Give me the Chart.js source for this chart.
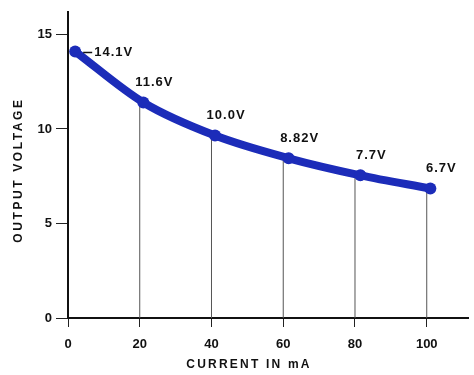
<!DOCTYPE html>
<html>
<head>
<meta charset="utf-8">
<script src="https://cdn.jsdelivr.net/npm/chart.js@4/dist/chart.umd.min.js"></script>
<style>
  html, body { margin: 0; padding: 0; background: #fff; }
  #wrap { width: 474px; height: 375px; }
</style>
</head>
<body>
<div id="wrap"><canvas id="chart" width="474" height="375"></canvas></div>
<script>
// Data
const current = [2, 21, 41, 61.5, 81.5, 101];           // mA
const voltage = [14.1, 11.4, 9.65, 8.45, 7.55, 6.85];   // plotted position
const pointLabels = ['14.1V', '11.6V', '10.0V', '8.82V', '7.7V', '6.7V'];
const dropX = [20, 40, 60, 80, 100];
const dropTop = [11.45, 9.7, 8.45, 7.55, 6.85];
const xTicks = [0, 20, 40, 60, 80, 100];
const yTicks = [0, 5, 10, 15];

const lineColor = 'rgb(28, 44, 185)';
const fontFamily = '"Liberation Sans", "DejaVu Sans", sans-serif';

// vertical drop lines, split with NaN gaps
const dropData = [];
dropX.forEach((x, i) => {
    dropData.push({ x: x, y: 0 }, { x: x, y: dropTop[i] }, { x: x, y: NaN });
});

const annotate = {
    id: 'annotate',
    afterDatasetsDraw(chart) {
        const ctx = chart.ctx;
        const meta = chart.getDatasetMeta(1);
        ctx.save();
        ctx.fillStyle = '#111';
        ctx.font = 'bold 13px ' + fontFamily;
        ctx.letterSpacing = '1px';
        ctx.textBaseline = 'middle';
        meta.data.forEach((pt, i) => {
            if (i === 0) {
                // leader dash + label to the right
                ctx.strokeStyle = '#111';
                ctx.lineWidth = 1.5;
                ctx.beginPath();
                ctx.moveTo(pt.x + 8, pt.y + 1);
                ctx.lineTo(pt.x + 17, pt.y + 1);
                ctx.stroke();
                ctx.textAlign = 'left';
                ctx.fillText(pointLabels[i], pt.x + 19, pt.y + 1);
            } else {
                ctx.textAlign = 'center';
                ctx.fillText(pointLabels[i], pt.x + 11, pt.y - 20);
            }
        });

        // axis titles
        ctx.textAlign = 'center';
        ctx.font = 'bold 12px ' + fontFamily;
        ctx.letterSpacing = '2.2px';
        ctx.fillText('CURRENT IN mA', 249, 365);
        ctx.translate(19, 170);
        ctx.rotate(-Math.PI / 2);
        ctx.letterSpacing = '2.6px';
        ctx.fillText('OUTPUT VOLTAGE', 0, 0);
        ctx.restore();
    }
};

new Chart(document.getElementById('chart'), {
    type: 'line',
    data: {
        datasets: [{
            data: dropData,
            borderColor: '#555',
            borderWidth: 1,
            pointRadius: 0,
            spanGaps: false,
            order: 2
        }, {
            data: current.map((x, i) => ({ x: x, y: voltage[i] })),
            borderColor: lineColor,
            backgroundColor: lineColor,
            borderWidth: 8,
            borderCapStyle: 'round',
            tension: 0.4,
            cubicInterpolationMode: 'monotone',
            pointRadius: 6,
            pointBorderWidth: 0,
            order: 1
        }]
    },
    options: {
        responsive: false,
        animation: false,
        layout: { padding: { top: 6, right: 4, left: 0, bottom: 0 } },
        plugins: {
            legend: { display: false },
            tooltip: { enabled: false }
        },
        scales: {
            x: {
                type: 'linear',
                min: 0,
                max: 111.5,
                afterBuildTicks: s => { s.ticks = xTicks.map(v => ({ value: v })); },
                afterFit: s => { s.height = 57; },
                grid: { drawOnChartArea: false, drawTicks: true, tickLength: 9, tickColor: '#222', lineWidth: 1 },
                border: { display: true, color: '#111', width: 2 },
                ticks: { color: '#111', font: { family: fontFamily, size: 13, weight: 'bold' }, padding: 10, maxRotation: 0 }
            },
            y: {
                type: 'linear',
                min: 0,
                max: 16.2,
                afterBuildTicks: s => { s.ticks = yTicks.map(v => ({ value: v })); },
                afterFit: s => { s.width = 68; },
                grid: { drawOnChartArea: false, drawTicks: true, tickLength: 12, tickColor: '#222', lineWidth: 1 },
                border: { display: true, color: '#111', width: 2 },
                ticks: { color: '#111', font: { family: fontFamily, size: 13, weight: 'bold' }, padding: 4 }
            }
        }
    },
    plugins: [annotate]
});
</script>
</body>
</html>
